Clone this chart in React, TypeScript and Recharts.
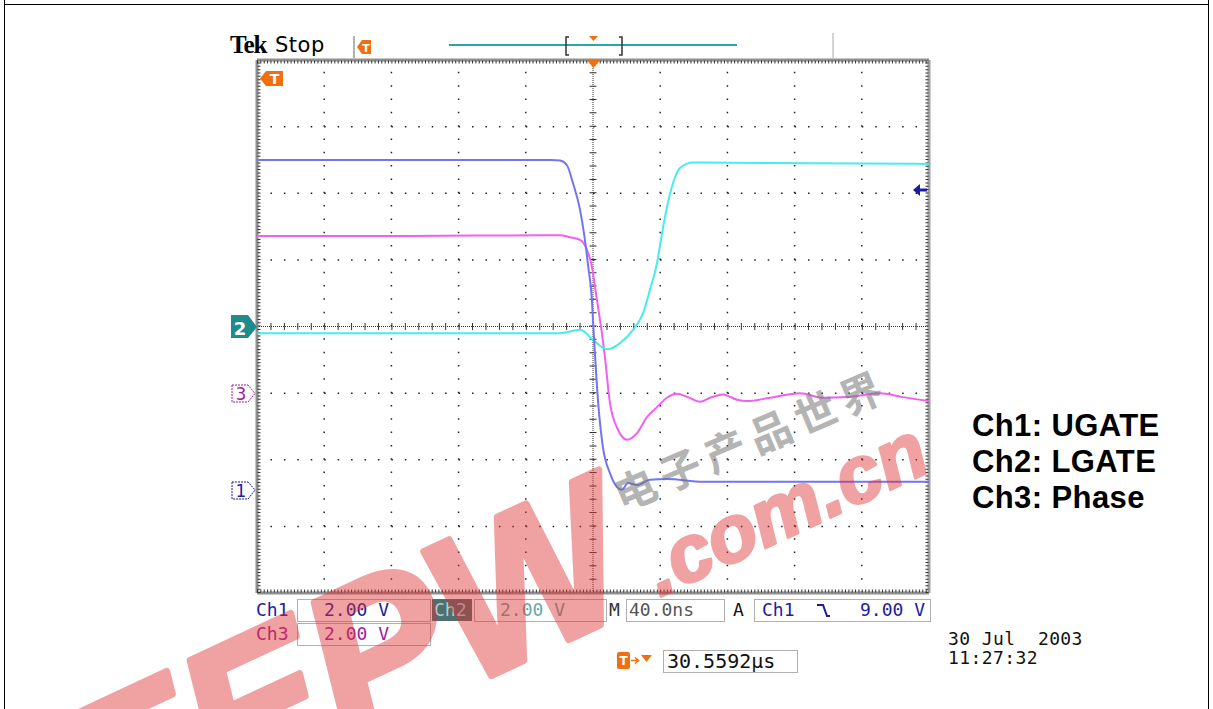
import React from "react";
import { LineChart, Line, XAxis, YAxis, ReferenceLine } from "recharts";

// time in ns (10 div x 40 ns), amplitude in screen divisions (-4..4)
const ch1T = [0, 120, 175, 180.3, 184.5, 188.1, 192.3, 195.2, 197.2, 199.2, 200.2, 201.2, 203.1, 205.9, 210.1, 214.3, 217.2, 220.8, 226.2, 233.9, 244, 265.5, 330, 400];
const ch1V = [2.5, 2.5, 2.5, 2.49, 2.42, 2.15, 1.75, 1.3, 0.89, 0.45, 0, -0.43, -1.15, -1.81, -2.2, -2.41, -2.45, -2.35, -2.38, -2.3, -2.29, -2.33, -2.33, -2.33];

const ch3T = [0, 90, 170, 180.3, 186.3, 192.3, 196.4, 199.4, 201.2, 203, 205.3, 207.1, 210.1, 214.9, 220.2, 226.2, 232.1, 238.1, 244, 250, 256.5, 263.7, 269.6, 277.4, 285.7, 291.7, 305.4, 323.2, 336.9, 351.2, 370.8, 384.5, 400];
const ch3V = [1.36, 1.36, 1.37, 1.37, 1.34, 1.3, 1.15, 0.89, 0.59, 0.29, -0.1, -0.46, -1.15, -1.55, -1.7, -1.6, -1.36, -1.21, -1.07, -1.01, -1.06, -1.13, -1.07, -1.02, -1.1, -1.12, -1.07, -1.0, -1.07, -1.06, -1.0, -1.06, -1.12];

const ch2T = [0, 90, 180.3, 192.3, 200, 205.9, 208.9, 216.1, 223.8, 229.8, 233.9, 238.1, 241.1, 244, 247.6, 251.8, 259.5, 263.7, 330, 400];
const ch2V = [-0.1, -0.1, -0.1, -0.05, -0.2, -0.32, -0.34, -0.25, -0.05, 0.2, 0.55, 0.95, 1.4, 1.79, 2.15, 2.38, 2.46, 2.46, 2.45, 2.44];

const majorX = [40, 80, 120, 160, 240, 280, 320, 360];
const majorY = [-3, -2, -1, 1, 2, 3];

const zip = (t: number[], v: number[]) => t.map((x, i) => ({ t: x, v: v[i] }));
const ch1Data = zip(ch1T, ch1V);
const ch2Data = zip(ch2T, ch2V);
const ch3Data = zip(ch3T, ch3V);

const MONO = "'DejaVu Sans Mono', monospace";
const ORANGE = "#f07010";
const BLUE = "#1c1c9c";
const PURPLE = "#a01ca0";

export default function App() {
  return (
    <div style={{ position: "absolute", left: 0, top: 0, width: 1213, height: 709, background: "#fff", overflow: "hidden" }}>
      <LineChart
        width={1213}
        height={709}
        margin={{ top: 60, left: 257, right: 284, bottom: 116 }}
        style={{ position: "absolute", left: 0, top: 0 }}
      >
        <XAxis type="number" dataKey="t" domain={[0, 400]} hide allowDataOverflow />
        <YAxis type="number" domain={[-4, 4]} hide allowDataOverflow />
        {majorX.map((x) => (
          <ReferenceLine key={"mx" + x} x={x} stroke="#222" strokeWidth={1.5} strokeDasharray="1.5 11.825" />
        ))}
        {majorY.map((y) => (
          <ReferenceLine key={"my" + y} y={y} stroke="#222" strokeWidth={1.5} strokeDasharray="1.5 11.94" />
        ))}
        {/* centre cross */}
        <ReferenceLine x={200} stroke="#333" strokeWidth={1} strokeDasharray="1 1" />
        <ReferenceLine x={200} stroke="#333" strokeWidth={7} strokeDasharray="1 12.325" />
        <ReferenceLine y={0} stroke="#333" strokeWidth={1} strokeDasharray="1 1" />
        <ReferenceLine y={0} stroke="#333" strokeWidth={7} strokeDasharray="1 12.44" />
        {/* border */}
        <ReferenceLine x={0} stroke="#909090" strokeWidth={3} />
        <ReferenceLine x={400} stroke="#a0a0a0" strokeWidth={3} />
        <ReferenceLine y={4} stroke="#909090" strokeWidth={3} />
        <ReferenceLine y={-4} stroke="#909090" strokeWidth={3} />
        <ReferenceLine x={1.2} stroke="#333" strokeWidth={3} strokeDasharray="1 2.33" />
        <ReferenceLine x={398.8} stroke="#333" strokeWidth={3} strokeDasharray="1 2.33" />
        <ReferenceLine y={3.97} stroke="#333" strokeWidth={3} strokeDasharray="1 2.36" />
        <ReferenceLine y={-3.97} stroke="#333" strokeWidth={3} strokeDasharray="1 2.36" />
        <Line data={ch3Data} dataKey="v" type="monotone" stroke="#f060f0" strokeWidth={2} dot={false} isAnimationActive={false} />
        <Line data={ch2Data} dataKey="v" type="monotone" stroke="#48ecec" strokeWidth={2} dot={false} isAnimationActive={false} />
        <Line data={ch1Data} dataKey="v" type="monotone" stroke="#7474f2" strokeWidth={2} dot={false} isAnimationActive={false} />
      </LineChart>

      <svg width={1213} height={709} style={{ position: "absolute", left: 0, top: 0, pointerEvents: "none" }}>
        <path d="M4.5 0 V709 M4.5 4.5 H1208.5 M1208.5 0 V709" stroke="#000" fill="none" />

        {/* header */}
        <text x={230} y={53} fontFamily="'Liberation Serif', serif" fontWeight="bold" fontSize={25} letterSpacing={-1}>Tek</text>
        <text x={275} y={52} fontFamily="'DejaVu Sans', sans-serif" fontSize={21} letterSpacing={0.5}>Stop</text>
        <line x1={354} y1={36} x2={354} y2={58} stroke="#999" strokeWidth={1.5} />
        <path d="M357 47 L362 40 H371 V54 H362 Z" fill={ORANGE} />
        <text x={366} y={51.5} textAnchor="middle" fill="#fff" fontFamily="'DejaVu Sans', sans-serif" fontWeight="bold" fontSize={11}>T</text>
        <line x1={449} y1={45} x2={737} y2={45} stroke="#2aa8a8" strokeWidth={2} />
        <path d="M569 37 H566 V55 H569 M619 37 H622 V55 H619" stroke="#333" strokeWidth={1.5} fill="none" />
        <path d="M589 36 H598 L593.5 41 Z" fill={ORANGE} />
        <line x1={833} y1={33} x2={833} y2={58} stroke="#aaa" strokeWidth={1} />
        <path d="M586 59 H601 L593.5 68 Z" fill={ORANGE} />
        <path d="M260 78.5 L266 71 H283 V86 H266 Z" fill={ORANGE} />
        <text x={274.5} y={84} textAnchor="middle" fill="#fff" fontFamily="'DejaVu Sans', sans-serif" fontWeight="bold" fontSize={14}>T</text>
        <path d="M913 190 L920 184 V188.5 H927 V191.5 H920 V196 Z" fill={BLUE} />

        {/* channel ground markers */}
        <path d="M231 315 H248 L257 327 L248 338 H231 Z" fill="#1e8c8c" />
        <text x={240} y={334.5} textAnchor="middle" fill="#fff" fontFamily="'DejaVu Sans', sans-serif" fontWeight="bold" fontSize={18}>2</text>
        <path d="M232 385 H248 L255 393.5 L248 402 H232 Z" fill="#fff" stroke={PURPLE} strokeDasharray="2 1" />
        <text x={241} y={400} textAnchor="middle" fill={PURPLE} fontFamily="'DejaVu Sans', sans-serif" fontSize={17}>3</text>
        <path d="M232 482 H248 L255 490 L248 499 H232 Z" fill="#fff" stroke={BLUE} strokeDasharray="2 1" />
        <text x={241} y={497} textAnchor="middle" fill={BLUE} fontFamily="'DejaVu Sans', sans-serif" fontSize={17}>1</text>

        {/* readouts */}
        <g fontFamily={MONO} fontSize={18}>
          <text x={256} y={616} fill={BLUE}>Ch1</text>
          <rect x={297.5} y={599.5} width={133} height={22} fill="#fff" stroke="#b0b0b0" />
          <text x={324} y={616} fill={BLUE}>2.00 V</text>
          <rect x={432} y={599} width={40} height={22} fill="#4d6f6f" />
          <text x={434} y={616} fill="#b8cccc">Ch2</text>
          <rect x={474.5} y={599.5} width={132} height={22} fill="#fff" stroke="#b0b0b0" />
          <text x={500} y={616} fill="#6aa8a8">2.00 V</text>
          <text x={609} y={616} fill="#333">M</text>
          <rect x={626.5} y={599.5} width={98} height={22} fill="#fff" stroke="#b0b0b0" />
          <text x={629} y={616} fill="#555">40.0ns</text>
          <text x={733} y={616} fill="#111">A</text>
          <rect x={754.5} y={599.5} width={176} height={22} fill="#fff" stroke="#b0b0b0" />
          <text x={762} y={616} fill={BLUE}>Ch1</text>
          <path d="M817 605 H823 L827 616 H830" stroke={BLUE} strokeWidth={2} fill="none" />
          <text x={860} y={616} fill={BLUE}>9.00 V</text>
          <text x={256} y={640} fill={PURPLE}>Ch3</text>
          <rect x={297.5} y={623.5} width={133} height={22} fill="#fff" stroke="#b0b0b0" />
          <text x={324} y={640} fill={PURPLE}>2.00 V</text>
          <rect x={617} y={652} width={13} height={17} rx={2} fill={ORANGE} />
          <text x={623.5} y={665} textAnchor="middle" fill="#fff" fontFamily="'DejaVu Sans', sans-serif" fontWeight="bold" fontSize={12}>T</text>
          <path d="M631 660.5 H638 M635 657.5 L638.5 660.5 L635 663.5" stroke={ORANGE} strokeWidth={1.5} fill="none" />
          <path d="M641 655 H652 L646.5 662 Z" fill={ORANGE} />
          <rect x={663.5} y={650.5} width={134} height={22} fill="#fff" stroke="#b0b0b0" />
          <text x={667} y={668} fill="#111" fontSize={20}>30.5592µs</text>
          <text x={948} y={645} fill="#111" style={{ whiteSpace: "pre" }} letterSpacing={0.4}>30 Jul  2003</text>
          <text x={948} y={664} fill="#111" letterSpacing={0.4}>11:27:32</text>
        </g>

        {/* legend */}
        <g fontFamily="'Liberation Sans', Arial, sans-serif" fontWeight="bold" fontSize={31} letterSpacing={0.4} fill="#000">
          <text x={972} y={436}>Ch1: UGATE</text>
          <text x={972} y={472}>Ch2: LGATE</text>
          <text x={972} y={508}>Ch3: Phase</text>
        </g>

        {/* watermark */}
        <g transform="translate(645,604) rotate(-25)" fontFamily="'Liberation Sans', Arial, sans-serif" fontWeight="bold" fontStyle="italic" fill="#e03030" stroke="#e03030" strokeWidth={7} strokeLinejoin="round" opacity={0.45}>
          <text x={0} y={0} textAnchor="end" fontSize={205}>EEPW</text>
          <text x={16} y={0} fontSize={80} strokeWidth={3}>.com.cn</text>
        </g>
        <g transform="translate(622,512) rotate(-23)" opacity={0.55}>
          <text x={0} y={0} fontFamily="'Noto Sans CJK SC', sans-serif" fontWeight="bold" fontSize={42} letterSpacing={7} fill="#777">电子产品世界</text>
        </g>
      </svg>
    </div>
  );
}
